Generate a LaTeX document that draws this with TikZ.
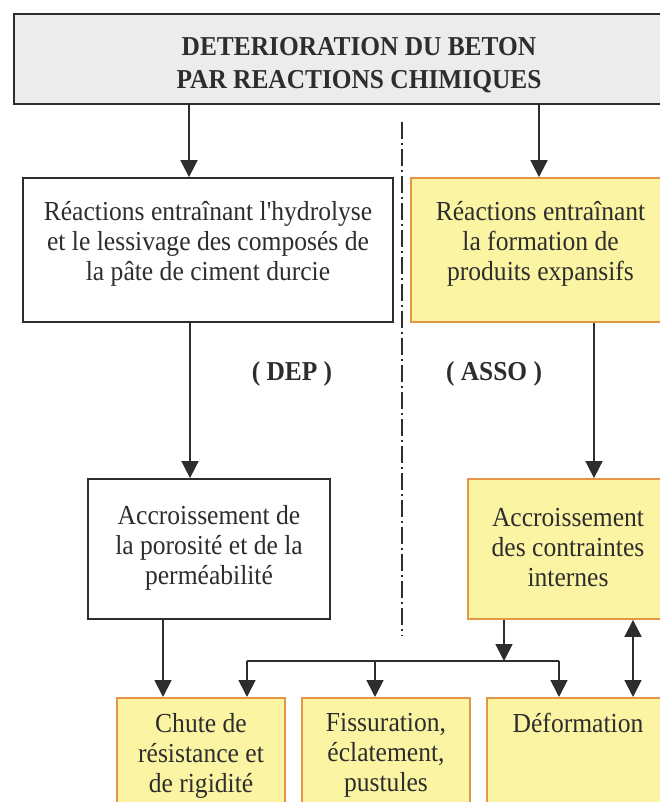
\documentclass[tikz,border=0pt]{standalone}
\usepackage{fontspec}
\setmainfont{Liberation Serif}[Ligatures=TeXOff, FakeStretch=0.93]
\usetikzlibrary{arrows.meta}
\definecolor{ink}{RGB}{45,45,45}
\definecolor{yfill}{RGB}{251,244,162}
\definecolor{yedge}{RGB}{228,150,70}
\definecolor{gfill}{RGB}{236,236,236}
\tikzset{
  txt/.style={font=\fontsize{27.5}{30}\selectfont, text=ink, align=center, inner sep=0pt},
  bold/.style={font=\fontsize{27.3}{33}\selectfont\bfseries},
  wbox/.style={draw=ink, line width=1.8pt, fill=white, inner sep=0pt},
  ybox/.style={draw=yedge, line width=1.8pt, fill=yfill, inner sep=0pt},
  tbox/.style={draw=ink, line width=1.8pt, fill=gfill, inner sep=0pt},
  arr/.style={draw=ink, line width=1.8pt, -{Triangle[length=17pt,width=17pt]}},
  darr/.style={draw=ink, line width=1.8pt, {Triangle[length=17pt,width=17pt]}-{Triangle[length=17pt,width=17pt]}},
  ln/.style={draw=ink, line width=1.8pt},
  sep/.style={draw=ink, line width=1.4pt, dash pattern=on 17pt off 4pt on 2pt off 4pt},
}
\begin{document}
\begin{tikzpicture}[x=1pt,y=-1pt]
\useasboundingbox (0,0) rectangle (660,802);
\clip (0,0) rectangle (660,802);
\fill[white] (0,0) rectangle (660,802);
% boxes
\node[tbox, minimum width=690pt, minimum height=90pt] (title) at (359,59) {};
\node[txt, bold] (titlet) at (359,65) {DETERIORATION DU BETON\\PAR REACTIONS CHIMIQUES};
\node[wbox, minimum width=370pt, minimum height=144pt] (L1) at (208,250) {};
\node[txt] (L1t) at (208,244) {Réactions entraînant l'hydrolyse\\et le lessivage des composés de\\la pâte de ciment durcie};
\node[ybox, minimum width=259pt, minimum height=144pt] (R1) at (540.5,250) {};
\node[txt] (R1t) at (540.5,244) {Réactions entraînant\\la formation de\\produits expansifs};
\node[wbox, minimum width=242pt, minimum height=140pt] (L2) at (209,549) {};
\node[txt] (L2t) at (209,548) {Accroissement de\\la porosité et de la\\perméabilité};
\node[ybox, minimum width=200pt, minimum height=140pt] (R2) at (568,549) {};
\node[txt] (R2t) at (568,548) {Accroissement\\des contraintes\\internes};
\node[ybox, minimum width=168pt, minimum height=150pt, anchor=north] (B1) at (201,697) {};
\node[txt, anchor=north] (B1t) at (201,713) {Chute de\\résistance et\\de rigidité};
\node[ybox, minimum width=168pt, minimum height=150pt, anchor=north] (B2) at (386,697) {};
\node[txt, anchor=north] (B2t) at (386,713) {Fissuration,\\éclatement,\\pustules};
\node[ybox, minimum width=182pt, minimum height=150pt, anchor=north] (B3) at (578,697) {};
\node[txt, anchor=north] (B3t) at (578,713) {Déformation};
% labels
\node[txt, bold] (dep) at (292,374) {( DEP )};
\node[txt, bold] (asso) at (494,374) {( ASSO )};
% separator
\coordinate (s1) at (402,122);
\coordinate (s2) at (402,636);
\draw[sep] (s1) -- (s2);
% connector x positions
\coordinate (xa) at (189,0);
\coordinate (xb) at (539,0);
\coordinate (xc) at (190,0);
\coordinate (xd) at (594,0);
\coordinate (xe) at (163,0);
\coordinate (xf) at (504,0);
\coordinate (xg) at (247,0);
\coordinate (xh) at (375,0);
\coordinate (xi) at (559,0);
\coordinate (xj) at (633,0);
\coordinate (hy) at (0,661);
\draw[arr] (title.south -| xa) -- (L1.north -| xa);
\draw[arr] (title.south -| xb) -- (R1.north -| xb);
\draw[arr] (L1.south -| xc) -- (L2.north -| xc);
\draw[arr] (R1.south -| xd) -- (R2.north -| xd);
\draw[arr] (L2.south -| xe) -- (B1.north -| xe);
\draw[arr] (R2.south -| xf) -- (hy -| xf);
\draw[ln] (hy -| xg) -- (hy -| xi);
\draw[arr] (hy -| xg) -- (B1.north -| xg);
\draw[arr] (hy -| xh) -- (B2.north -| xh);
\draw[arr] (hy -| xi) -- (B3.north -| xi);
\draw[darr] (R2.south -| xj) -- (B3.north -| xj);
\end{tikzpicture}
\end{document}
